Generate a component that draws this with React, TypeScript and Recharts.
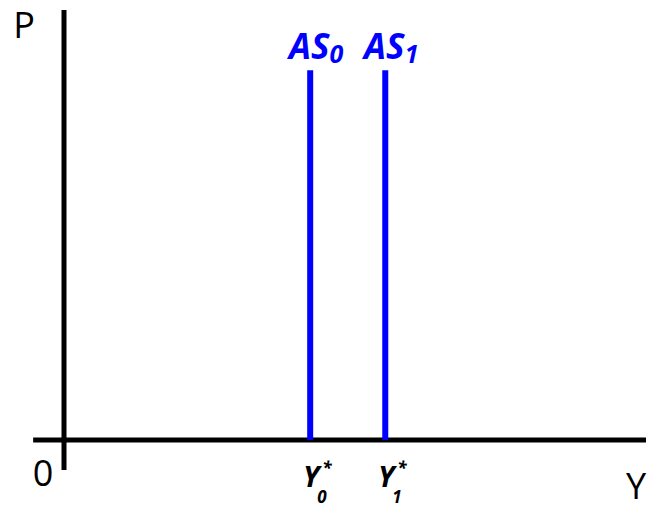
import React from "react";
import { ComposedChart, XAxis, YAxis, ReferenceLine, Scatter } from "recharts";

// ---- data ----
const curveName = "AS";
const curveSubscripts = ["0", "1"];
const outputLevels = [42.3, 55.2]; // Y0*, Y1* positions on the Y axis
const supplyTop = 86; // top of the vertical AS lines (price units)
const outputTickName = "Y";
const outputTickSubs = ["0", "1"];
const priceTicks = [0];
const xTitle = "Y";
const yTitle = "P";
const xDomain = [0, 100];
const yDomain = [0, 100];
const yAxisExtent = [-7, 100];
const xAxisExtent = [-5.3, 100];

const BLUE = "#0000FF";
const FONT = "'Open Sans', 'Noto Sans', sans-serif";

const labelData = outputLevels.map((x, i) => ({ x, y: supplyTop, sub: curveSubscripts[i] }));

const AsLabel = (props: any) => {
  const { cx, cy, payload } = props;
  if (cx == null || cy == null) return null;
  return (
    <text
      x={cx + 6}
      y={cy - 11}
      textAnchor="middle"
      fill={BLUE}
      fontFamily={FONT}
      fontWeight="bold"
      fontStyle="italic"
      fontSize={35}
    >
      {curveName}
      <tspan fontSize={25} dy={4}>{payload.sub}</tspan>
    </text>
  );
};

const OutputTick = (props: any) => {
  const { x, y, payload } = props;
  const idx = outputLevels.indexOf(payload.value);
  const sub = outputTickSubs[idx] ?? "";
  return (
    <g fontFamily={FONT} fontWeight="bold" fontStyle="italic" fill="#000">
      <text x={x + 1} y={y + 47} textAnchor="middle" fontSize={29}>{outputTickName}</text>
      <text x={x + 7} y={y + 63} textAnchor="start" fontSize={17}>{sub}</text>
      <text x={x + 12} y={y + 34} textAnchor="start" fontSize={17}>*</text>
    </g>
  );
};

const PriceTick = (props: any) => {
  const { x, y, payload } = props;
  return (
    <text x={x - 21} y={y + 46} textAnchor="middle" fontFamily={FONT} fontSize={36} fill="#000">
      {String(payload.value)}
    </text>
  );
};

const YTitle = (props: any) => {
  const vb = props.viewBox || {};
  return (
    <text x={(vb.x ?? 0) + 24} y={(vb.y ?? 0) + 28} textAnchor="middle" fontFamily={FONT} fontSize={36} fill="#000">
      {yTitle}
    </text>
  );
};

const XTitle = (props: any) => {
  const vb = props.viewBox || {};
  return (
    <text x={(vb.x ?? 0) + (vb.width ?? 0) - 20} y={(vb.y ?? 0) + 59} textAnchor="start" fontFamily={FONT} fontSize={36} fill="#000">
      {xTitle}
    </text>
  );
};

export default function App() {
  return (
    <div style={{ position: "absolute", left: 0, top: 0, width: 648, height: 508, background: "#fff" }}>
      <ComposedChart width={648} height={508} margin={{ top: 10, right: 2, bottom: 8, left: 0 }}>
        <XAxis
          type="number"
          dataKey="x"
          domain={xDomain}
          allowDataOverflow
          ticks={outputLevels}
          tick={<OutputTick />}
          axisLine={false}
          tickLine={false}
          tickSize={0}
          tickMargin={0}
          height={60}
          interval={0}
          label={<XTitle />}
        />
        <YAxis
          type="number"
          dataKey="y"
          domain={yDomain}
          allowDataOverflow
          ticks={priceTicks}
          tick={<PriceTick />}
          axisLine={false}
          tickLine={false}
          tickSize={0}
          tickMargin={0}
          width={64}
          interval={0}
          label={<YTitle />}
        />
        <ReferenceLine
          segment={[{ x: 0, y: yAxisExtent[0] }, { x: 0, y: yAxisExtent[1] }]}
          stroke="#000"
          strokeWidth={5}
          ifOverflow="visible"
        />
        <ReferenceLine
          segment={[{ x: xAxisExtent[0], y: 0 }, { x: xAxisExtent[1], y: 0 }]}
          stroke="#000"
          strokeWidth={5}
          ifOverflow="visible"
        />
        {outputLevels.map((lv, i) => (
          <ReferenceLine
            key={i}
            segment={[{ x: lv, y: 0 }, { x: lv, y: supplyTop }]}
            stroke={BLUE}
            strokeWidth={6}
            ifOverflow="visible"
          />
        ))}
        <Scatter data={labelData} shape={<AsLabel />} isAnimationActive={false} />
      </ComposedChart>
    </div>
  );
}
